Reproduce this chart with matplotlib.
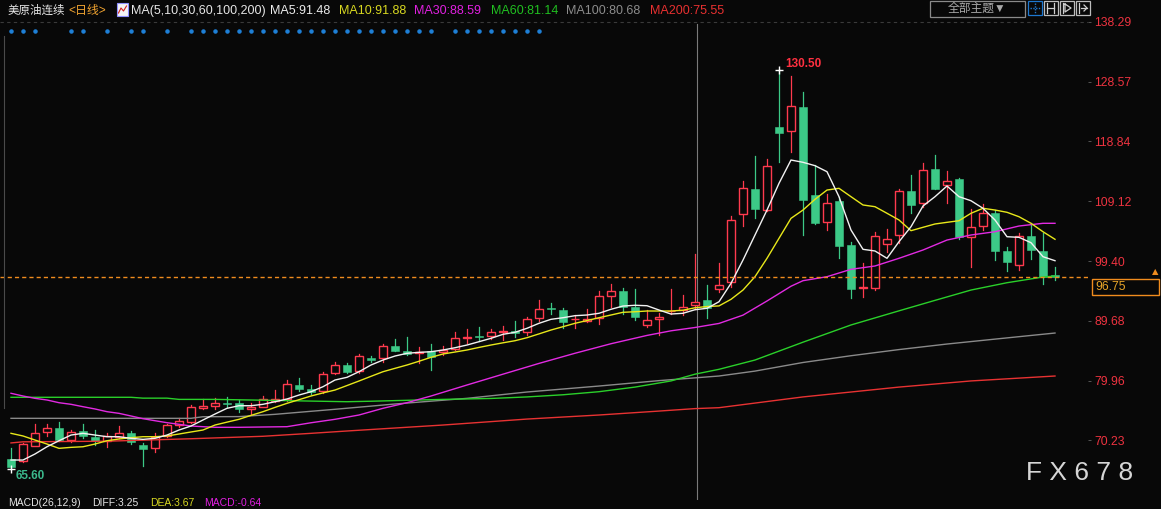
import matplotlib
matplotlib.use("Agg")
import matplotlib.pyplot as plt
from matplotlib.patches import Rectangle
from matplotlib.lines import Line2D
import matplotlib.transforms as mtransforms

plt.rcParams['font.family'] = ['Liberation Sans', 'Noto Sans CJK SC', 'DejaVu Sans']

# 日K数据 (开, 高, 低, 收)
opens = [67.20, 66.93, 69.37, 71.64, 72.20, 70.29, 71.76, 70.78, 70.18, 70.83,
         71.43, 69.53, 68.94, 70.99, 72.73, 73.17, 75.55, 75.77, 76.27, 76.26,
         75.38, 75.71, 76.60, 77.01, 79.19, 78.54, 78.21, 81.14, 82.49, 81.47,
         83.63, 83.58, 85.53, 84.72, 84.39, 84.72, 84.55, 85.09, 86.90, 87.20,
         87.25, 87.85, 88.02, 87.90, 90.08, 91.65, 91.43, 89.90, 89.70, 90.08,
         93.76, 94.52, 91.97, 89.04, 89.92, 91.20, 91.48, 92.29, 93.06, 94.80,
         95.94, 106.99, 111.11, 107.74, 121.19, 120.59, 124.44, 110.13, 105.79, 109.16,
         102.00, 95.05, 95.06, 102.12, 103.58, 110.73, 108.78, 114.36, 111.71, 112.73,
         103.35, 105.14, 107.25, 101.03, 98.80, 103.47, 101.03, 97.07]
highs = [69.00, 69.86, 72.90, 72.90, 73.30, 71.90, 72.90, 71.90, 71.40, 72.57,
         71.76, 69.76, 71.40, 72.90, 73.82, 76.03, 76.90, 77.17, 77.24, 76.80,
         76.26, 77.45, 78.42, 80.05, 80.33, 79.19, 81.40, 82.98, 82.86, 84.23,
         83.95, 85.90, 86.72, 86.99, 85.37, 85.90, 85.58, 87.81, 88.34, 88.62,
         88.29, 88.83, 89.64, 90.34, 93.06, 92.52, 91.71, 90.62, 91.60, 94.52,
         95.61, 94.96, 94.85, 91.38, 91.00, 94.85, 93.87, 100.54, 95.50, 99.03,
         106.72, 112.41, 116.47, 116.03, 130.50, 129.48, 126.88, 115.01, 110.29, 109.86,
         102.44, 99.12, 104.16, 104.55, 111.11, 113.38, 115.29, 116.64, 114.08, 112.85,
         107.81, 108.67, 107.69, 101.63, 103.90, 105.53, 104.00, 98.47]
lows = [65.60, 66.77, 69.30, 70.90, 70.18, 70.00, 70.60, 69.50, 69.20, 70.57,
        69.64, 66.00, 68.40, 70.83, 72.36, 73.00, 75.34, 75.29, 75.61, 74.90,
        74.47, 75.61, 76.52, 76.64, 78.26, 77.73, 77.99, 81.03, 81.14, 81.24,
        82.93, 82.93, 84.81, 84.12, 82.77, 81.68, 84.12, 84.88, 86.02, 86.39,
        86.67, 86.55, 87.09, 87.37, 89.64, 90.73, 88.46, 88.46, 89.53, 89.11,
        91.97, 90.73, 89.81, 88.72, 87.37, 90.73, 90.62, 91.55, 90.08, 94.41,
        95.22, 105.14, 106.44, 107.53, 115.55, 117.17, 103.63, 105.40, 104.44, 99.84,
        93.33, 93.50, 94.68, 100.91, 102.38, 107.16, 108.23, 111.10, 108.78, 102.93,
        98.47, 104.44, 99.56, 97.82, 97.94, 99.77, 95.66, 96.31]
closes = [65.95, 69.64, 71.40, 72.20, 70.29, 71.55, 70.90, 70.13, 70.99, 71.43,
          69.92, 68.88, 70.83, 72.68, 73.38, 75.66, 75.87, 76.31, 76.20, 75.29,
          75.66, 76.91, 76.96, 79.35, 78.59, 78.05, 80.98, 82.44, 81.40, 83.90,
          83.30, 85.53, 84.81, 84.23, 84.56, 83.84, 84.88, 86.83, 87.05, 87.10,
          87.81, 87.98, 87.74, 89.97, 91.60, 91.55, 89.53, 90.00, 89.97, 93.66,
          94.52, 91.92, 90.34, 89.76, 90.29, 91.35, 91.87, 92.73, 91.71, 95.50,
          106.07, 111.22, 107.86, 114.85, 120.26, 124.60, 109.32, 105.53, 108.78, 101.84,
          94.85, 95.15, 103.47, 102.93, 110.73, 108.55, 114.20, 111.16, 112.36, 103.35,
          104.88, 107.16, 101.07, 99.29, 103.42, 101.24, 96.80, 96.75]

# 均线
ma5 = [67.04, 67.04, 68.02, 69.20, 70.18, 71.10, 71.38, 71.10, 70.83, 70.83,
       70.57, 70.40, 70.57, 71.10, 71.92, 72.57, 73.55, 74.52, 75.45, 75.87,
       75.87, 76.10, 76.52, 76.96, 77.61, 78.15, 78.96, 80.05, 80.49, 81.40,
       82.49, 83.30, 83.95, 84.39, 84.55, 84.65, 84.93, 85.30, 85.74, 86.28,
       86.83, 87.48, 87.81, 88.46, 89.27, 89.92, 90.18, 90.51, 90.62, 90.90,
       91.55, 92.08, 92.20, 92.13, 91.43, 90.78, 90.90, 91.48, 91.71, 92.78,
       95.77, 99.56, 103.63, 107.69, 112.03, 115.82, 115.45, 114.90, 113.92, 109.86,
       104.44, 101.30, 101.03, 99.84, 102.54, 104.98, 108.34, 109.86, 111.60, 109.86,
       109.20, 107.97, 106.07, 103.35, 103.25, 102.38, 100.10, 99.45]
ma10 = [71.38, 70.95, 70.29, 69.64, 68.94, 69.10, 69.20, 69.64, 70.18, 70.46,
        70.67, 70.83, 70.83, 70.95, 71.27, 71.60, 71.92, 72.73, 73.20, 73.66,
        74.30, 74.90, 75.60, 76.26, 76.85, 77.45, 77.95, 78.42, 79.15, 79.89,
        80.65, 81.40, 81.95, 82.49, 83.10, 83.74, 84.28, 84.60, 84.93, 85.35,
        85.74, 86.10, 86.44, 86.93, 87.55, 88.18, 88.72, 89.27, 89.72, 90.18,
        90.62, 91.06, 91.15, 91.27, 91.27, 91.27, 91.40, 91.80, 92.00, 92.10,
        93.17, 94.68, 96.85, 99.84, 103.09, 106.34, 107.69, 109.43, 110.94, 111.22,
        109.86, 108.51, 108.23, 107.16, 106.07, 104.33, 104.88, 105.42, 105.69, 105.95,
        107.16, 107.97, 107.69, 107.32, 106.60, 105.53, 104.16, 102.93]
ma30_x = list(range(18)) + [19, 23, 25, 27, 29, 31, 33, 35, 38, 41, 44, 47, 50, 53, 55, 57,
                            59, 61, 63, 65, 66, 68, 70, 72, 74, 76, 78, 80, 82, 84, 86, 87]
ma30 = [77.89, 77.45, 77.07, 76.80, 76.36, 76.10, 75.71, 75.34, 74.90, 74.63,
        74.20, 73.76, 73.43, 73.11, 72.85, 72.57, 72.46, 72.36,
        72.36, 72.46, 73.10, 73.66, 74.36, 75.45, 76.36, 77.45, 79.24, 81.00,
        82.75, 84.40, 85.95, 87.30, 88.05, 88.59, 89.25, 90.60, 92.90, 95.30,
        96.20, 96.85, 98.05, 98.59, 99.84, 101.19, 102.81, 103.63, 104.16, 105.09,
        105.53, 105.53]
ma60_x = [0, 10, 11, 13, 14, 17, 20, 28, 30, 36, 40, 43, 46, 49, 52, 55, 57, 59,
          62, 66, 70, 74, 77, 80, 83, 86, 87]
ma60 = [77.24, 77.24, 77.10, 77.10, 76.90, 76.90, 76.80, 76.52, 76.60, 76.90,
        77.05, 77.30, 77.65, 78.15, 78.90, 79.90, 81.00, 81.79, 83.30, 86.20,
        89.00, 91.30, 93.00, 94.68, 95.87, 96.80, 96.96]
ma100_x = [0, 15, 16, 19, 22, 24, 27, 32, 38, 43, 49, 54, 57, 59, 62, 66, 70, 74,
           78, 82, 87]
ma100 = [73.82, 73.82, 74.08, 74.10, 74.47, 74.80, 75.29, 76.15, 77.07, 78.10,
         79.07, 79.95, 80.40, 80.70, 81.50, 82.90, 84.00, 85.00, 85.90, 86.70, 87.69]
ma200_x = [0, 1, 8, 15, 21, 25, 28, 36, 43, 49, 54, 57, 59, 66, 74, 80, 87]
ma200 = [69.82, 70.00, 70.10, 70.50, 70.90, 71.38, 71.76, 72.73, 73.70, 74.36,
         75.00, 75.40, 75.55, 77.30, 78.90, 79.90, 80.70]

price_ticks = [138.29, 128.57, 118.84, 109.12, 99.40, 89.68, 79.96, 70.23]
signal_idx = [0, 1, 2, 5, 6, 8, 10, 11, 13, 15, 16, 17, 18, 19, 20, 21, 22, 23, 24,
              25, 26, 27, 28, 29, 30, 31, 32, 33, 34, 35, 37, 38, 39, 40, 41, 42, 43, 44]
last_price = 96.75
high_idx, high_val = 64, 130.50
low_idx, low_val = 0, 65.60
cursor_idx = 57.2

W, H = 1161, 509
BG = '#080808'
UP = '#ff3a4e'
DOWN = '#3cc987'


def fx(x):
    return x / W


def fy(y):
    return 1 - y / H


fig = plt.figure(figsize=(W / 100, H / 100), dpi=100, facecolor=BG)
ax = fig.add_axes([0, 9 / H, 1088 / W, 500 / H], facecolor=BG)
ax.set_xlim(-11 / 12, 1077 / 12)
ax.set_ylim(60.54, 141.84)
for s in ax.spines.values():
    s.set_visible(False)
ax.set_xticks([])
ax.yaxis.tick_right()
ax.set_yticks(price_ticks)
ax.set_yticklabels([f"{v:.2f}" for v in price_ticks])
ax.tick_params(axis='y', colors='#555555', labelcolor='#ee3340', labelsize=8.7,
               length=2.5, width=0.7, pad=2)

# 顶部虚线
ax.axhline(price_ticks[0], color='#3a3a3a', lw=0.8, ls=(0, (3, 3)), clip_on=False)

# K线
for i, (o, h, l, c) in enumerate(zip(opens, highs, lows, closes)):
    if c >= o:
        top, bot = c, o
        ax.plot([i, i], [l, bot], color=UP, lw=0.9, zorder=2)
        ax.plot([i, i], [top, h], color=UP, lw=0.9, zorder=2)
        ax.add_patch(Rectangle((i - 0.31, bot), 0.62, max(top - bot, 0.12),
                               facecolor=BG, edgecolor=UP, lw=1.0, zorder=3))
    else:
        ax.plot([i, i], [l, h], color=DOWN, lw=0.9, zorder=2)
        ax.add_patch(Rectangle((i - 0.37, c), 0.74, max(o - c, 0.15),
                               facecolor=DOWN, edgecolor=DOWN, lw=0.4, zorder=3))

# 均线
idx = list(range(len(closes)))
ax.plot(ma200_x, ma200, color='#e83232', lw=1.0, zorder=4)
ax.plot(ma100_x, ma100, color='#8a8a8a', lw=1.0, zorder=4)
ax.plot(ma60_x, ma60, color='#2ad02a', lw=1.0, zorder=4)
ax.plot(ma30_x, ma30, color='#e22ae2', lw=1.0, zorder=4)
ax.plot(idx, ma10, color='#e8e81a', lw=1.0, zorder=4)
ax.plot(idx, ma5, color='#f2f2f2', lw=1.0, zorder=5)

# 最新价虚线
ax.axhline(last_price, color='#f08c1e', lw=1.0, ls=(0, (3, 2.2)), zorder=6)

# 十字光标
ax.plot([cursor_idx, cursor_idx], [60.54, price_ticks[0] - 0.3], color='#7a7a7a',
        lw=0.8, zorder=1)

# 最高/最低标注
ax.plot([high_idx], [high_val], marker='+', color='white', ms=6, mew=1, zorder=6)
ax.text(high_idx + 0.5, high_val + 1.0, f"{high_val:.2f}", color='#ff3040',
        fontsize=8.5, fontweight='bold', va='center', ha='left')
ax.plot([low_idx], [low_val], marker='+', color='white', ms=6, mew=1, zorder=6)
ax.text(low_idx + 0.4, low_val - 1.2, f"{low_val:.2f}", color='#3bb88c',
        fontsize=8.5, fontweight='bold', va='center', ha='left')

# 信号点
trans = mtransforms.blended_transform_factory(ax.transData, fig.transFigure)
ax.scatter(signal_idx, [fy(31)] * len(signal_idx), s=5, color='#1e7fd6',
           transform=trans, clip_on=False, zorder=6)

# 标题栏
header = [
    (8, "美原油连续", '#e6e6e6', 8.3),
    (68, "<日线>", '#f0a330', 8.6),
    (131, "MA(5,10,30,60,100,200)", '#e6e6e6', 9),
    (270, "MA5:91.48", '#ececec', 9),
    (339, "MA10:91.88", '#d8d820', 9),
    (414, "MA30:88.59", '#e020e0', 9),
    (491, "MA60:81.14", '#20c020', 9),
    (566, "MA100:80.68", '#8c8c8c', 9),
    (650, "MA200:75.55", '#e83030', 9),
]
for x, txt, col, fs in header:
    fig.text(fx(x), fy(11), txt, color=col, fontsize=fs, va='center', ha='left')


def rect_px(x0, y0, x1, y1, **kw):
    fig.add_artist(Rectangle((fx(x0), fy(y1)), (x1 - x0) / W, (y1 - y0) / H,
                             transform=fig.transFigure, **kw))


def line_px(xs, ys, **kw):
    fig.add_artist(Line2D([fx(v) for v in xs], [fy(v) for v in ys],
                          transform=fig.transFigure, **kw))


# 指标图标
rect_px(117, 3, 128, 16, facecolor='#f4f4f4', edgecolor='#9090ff', lw=0.8)
line_px([118.5, 121, 123.5, 126.5], [13, 8, 11, 6], color='#d02020', lw=0.8)

# 全部主题 按钮与工具图标
rect_px(930, 1, 1025, 16.5, facecolor=BG, edgecolor='#8a8a8a', lw=0.9)
fig.text(fx(977), fy(9), "全部主题▼", color='#a8a8a8', fontsize=8.5, va='center',
         ha='center')
rect_px(1028, 1, 1042, 15, facecolor=BG, edgecolor='#1e78d0', lw=0.9)
line_px([1035, 1035], [3, 13], color='#1e78d0', lw=1.0, ls=(0, (1, 1)))
line_px([1030, 1040], [8, 8], color='#1e78d0', lw=1.0, ls=(0, (1, 1)))
for x0 in (1044, 1060, 1076):
    rect_px(x0, 1, x0 + 14, 15, facecolor=BG, edgecolor='#bdbdbd', lw=0.9)
line_px([1047, 1047], [3, 13], color='#cfcfcf', lw=0.9)
line_px([1054, 1054], [3, 13], color='#cfcfcf', lw=0.9)
line_px([1047, 1054], [8, 8], color='#cfcfcf', lw=0.9)
line_px([1063, 1063], [3, 13], color='#cfcfcf', lw=0.9)
line_px([1065, 1071, 1065, 1065], [4, 8, 12, 4], color='#cfcfcf', lw=0.9)
line_px([1079, 1079], [3, 13], color='#cfcfcf', lw=0.9)
line_px([1081, 1087], [8, 8], color='#cfcfcf', lw=0.9)
line_px([1084, 1087, 1084], [5, 8, 11], color='#cfcfcf', lw=0.9)

# 左侧边线
line_px([4, 4], [36, 408], color='#4a4a4a', lw=0.8)

# 最新价标签
rect_px(1092, 278.5, 1159, 295, facecolor=BG, edgecolor='#f08c1e', lw=1.0)
fig.text(fx(1095), fy(287), f"{last_price:.2f}", color='#e8a528', fontsize=8.7,
         va='center', ha='left')
fig.text(fx(1155), fy(272), "▲", color='#f08c1e', fontsize=6, va='center', ha='center',
         family=['DejaVu Sans'])

# 水印
fig.text(fx(1080), fy(473), "F X 6 7 8", color='#d6d6d6', fontsize=19,
         va='center', ha='center')

# 副图标题
sub = [
    (8, "MACD(26,12,9)", '#e6e6e6'),
    (92, "DIFF:3.25", '#e6e6e6'),
    (150, "DEA:3.67", '#d8d820'),
    (204, "MACD:-0.64", '#e020e0'),
]
for x, txt, col in sub:
    fig.text(fx(x), fy(508), txt, color=col, fontsize=7.5, va='bottom', ha='left')

fig.savefig("out.png", dpi=100, facecolor=BG)
